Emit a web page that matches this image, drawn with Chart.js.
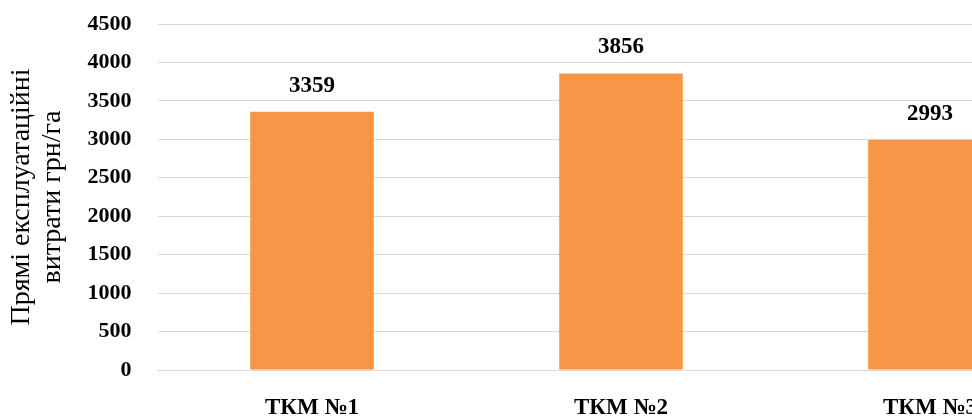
<!DOCTYPE html>
<html>
<head>
<meta charset="utf-8">
<script src="https://cdn.jsdelivr.net/npm/chart.js@4.4.1/dist/chart.umd.min.js"></script>
<style>
  html, body { margin: 0; padding: 0; background: #ffffff; overflow: hidden; }
  #wrap { width: 972px; height: 419px; overflow: hidden; position: relative; }
  canvas { display: block; }
</style>
</head>
<body>
<div id="wrap"><canvas id="c" width="1100" height="440"></canvas></div>
<script>
const categories = ['ТКМ №1', 'ТКМ №2', 'ТКМ №3'];
const costValues = [3359, 3856, 2993];
const yTitleLines = ['Прямі експлуатаційні', 'витрати грн/га'];
const yMin = 0, yMax = 4500, yStep = 500;

const FONT = '"Liberation Serif", "Times New Roman", serif';

const valueLabels = {
  id: 'valueLabels',
  afterDatasetsDraw(chart) {
    const ctx = chart.ctx;
    const meta = chart.getDatasetMeta(0);
    ctx.save();
    ctx.font = 'bold 23px ' + FONT;
    ctx.fillStyle = '#000000';
    ctx.textAlign = 'center';
    ctx.textBaseline = 'middle';
    meta.data.forEach((bar, i) => {
      ctx.fillText(String(chart.data.datasets[0].data[i]), bar.x, bar.y - 26);
    });
    ctx.restore();
  }
};

new Chart(document.getElementById('c'), {
  type: 'bar',
  data: {
    labels: categories,
    datasets: [{
      data: costValues,
      backgroundColor: '#F79646',
      borderWidth: 0,
      categoryPercentage: 1.0,
      barPercentage: 0.4
    }]
  },
  options: {
    responsive: false,
    animation: false,
    devicePixelRatio: 1,
    layout: { padding: { left: 0, right: 15.5, top: 24, bottom: 0 } },
    plugins: {
      legend: { display: false },
      tooltip: { enabled: false }
    },
    scales: {
      x: {
        grid: { display: false, drawTicks: false },
        border: { display: true, color: '#d9d9d9', width: 1 },
        ticks: {
          color: '#000000',
          font: { family: FONT, size: 23, weight: 'bold' },
          padding: 24,
          maxRotation: 0
        },
        afterFit(scale) { scale.height = 70; }
      },
      y: {
        min: yMin,
        max: yMax,
        grid: { color: '#d9d9d9', lineWidth: 1, drawTicks: true, tickLength: 26, tickColor: 'rgba(0,0,0,0)' },
        border: { display: false },
        ticks: {
          stepSize: yStep,
          color: '#000000',
          font: { family: FONT, size: 22, weight: 'bold' },
          padding: 0,
          callback: (v) => String(v)
        },
        title: {
          display: true,
          text: yTitleLines,
          color: '#000000',
          font: { family: FONT, size: 28, weight: 'normal', lineHeight: 1.1 },
          padding: { top: 6.5, bottom: 0 }
        },
        afterFit(scale) { scale.width = 157.5; }
      }
    }
  },
  plugins: [valueLabels]
});
</script>
</body>
</html>
